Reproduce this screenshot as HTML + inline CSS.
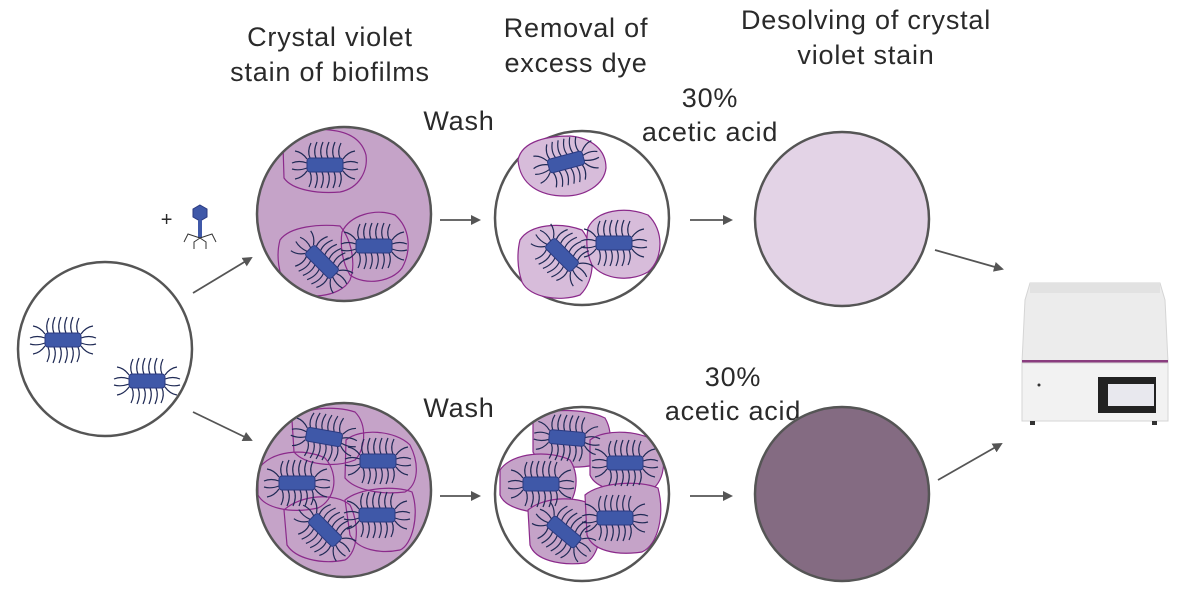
<!DOCTYPE html>
<html><head><meta charset="utf-8"><style>
body{margin:0;background:#fff}
svg{display:block}
text{font-family:"Liberation Sans",sans-serif;font-size:27px;letter-spacing:0.8px;fill:#2a2a2a;text-anchor:middle}
</style></head><body>
<svg width="1200" height="607" viewBox="0 0 1200 607" xmlns="http://www.w3.org/2000/svg">
<defs>
<marker id="ar" markerWidth="10" markerHeight="10" refX="8" refY="5" orient="auto" markerUnits="userSpaceOnUse"><path d="M0,0 L10,5 L0,10z" fill="#555"/></marker>
<g id="b">
<g fill="none" stroke="#1f2a55" stroke-width="1.2">
<path d="M-15,-7 q-3,-7 1,-15"/><path d="M-9,-7 q-3,-7 1,-16"/><path d="M-3,-7 q-3,-7 1,-16"/><path d="M3,-7 q-3,-7 1,-16"/><path d="M9,-7 q-3,-7 1,-16"/><path d="M15,-7 q-3,-7 1,-15"/>
<path d="M-15,7 q3,7 -1,15"/><path d="M-9,7 q3,7 -1,16"/><path d="M-3,7 q3,7 -1,16"/><path d="M3,7 q3,7 -1,16"/><path d="M9,7 q3,7 -1,16"/><path d="M15,7 q3,7 -1,15"/>
<path d="M-18,-2 q-8,-3 -15,0"/><path d="M-18,3 q-8,3 -15,1"/><path d="M18,-2 q8,-3 15,0"/><path d="M18,3 q8,3 15,1"/>
<path d="M-18,-6 q-5,-7 -12,-8"/><path d="M18,6 q5,7 12,8"/><path d="M-18,6 q-5,7 -12,8"/><path d="M18,-6 q5,-7 12,-8"/>
</g>
<rect x="-18" y="-7" width="36" height="14" rx="3" fill="#3f58a8" stroke="#2b3a80" stroke-width="1"/>
</g>
<clipPath id="c1"><circle cx="344" cy="214" r="87"/></clipPath>
<clipPath id="c2"><circle cx="344" cy="490" r="87"/></clipPath>
<clipPath id="c3"><circle cx="582" cy="494" r="87"/></clipPath>
</defs>

<text x="330" y="46">Crystal violet</text><text x="330" y="81">stain of biofilms</text>
<text x="576" y="37">Removal of</text><text x="576" y="72">excess dye</text>
<text x="866" y="29">Desolving of crystal</text><text x="866" y="64">violet stain</text>
<text x="459" y="130">Wash</text><text x="459" y="417">Wash</text>
<text x="710" y="107">30%</text><text x="710" y="141">acetic acid</text>
<text x="733" y="386">30%</text><text x="733" y="420">acetic acid</text>
<text x="167" y="226" style="font-size:20px">+</text>

<polygon points="200,205 207,209 207,217 200,221 193,217 193,209" fill="#3f58a8" stroke="#2b3a80"/>
<rect x="198" y="220" width="4" height="18" fill="#3f58a8"/>
<g stroke="#333" stroke-width="1" fill="none"><path d="M200,238 l-12,-4 l-4,8"/><path d="M200,238 l12,-4 l4,8"/><path d="M200,238 l-6,4 l0,7"/><path d="M200,238 l6,4 l0,7"/></g>

<circle cx="105" cy="349" r="87" fill="#fff" stroke="#555" stroke-width="2.5"/>
<use href="#b" x="63" y="340"/><use href="#b" x="147" y="381"/>

<circle cx="344" cy="214" r="87" fill="#c5a3c8"/>
<g clip-path="url(#c1)" fill="none" stroke="#8b2a8b" stroke-width="1.2" stroke-linejoin="round">
<path d="M283,145 C285,130 310,128 330,130 C350,132 362,140 366,155 C368,170 360,188 340,192 C318,194 292,190 284,178z"/>
<path d="M280,240 C290,226 320,224 340,226 C352,240 356,265 350,280 C340,298 305,300 288,290 C278,275 276,255 280,240z"/>
<path d="M342,232 C350,215 375,208 395,215 C410,228 412,250 402,268 C392,282 365,286 350,275 C342,262 340,245 342,232z"/>
</g>
<use href="#b" x="325" y="165"/><use href="#b" x="374" y="246"/>
<use href="#b" transform="translate(322,262) rotate(45)"/>
<circle cx="344" cy="214" r="87" fill="none" stroke="#555" stroke-width="2.5"/>

<circle cx="582" cy="218" r="87" fill="#fff" stroke="#555" stroke-width="2.5"/>
<g fill="#d7bcda" stroke="#8b2a8b" stroke-width="1.2">
<path d="M518,160 C522,140 550,136 570,136 C592,138 606,150 606,168 C604,185 585,196 565,196 C540,196 520,185 518,160z"/>
<path d="M520,240 C530,224 560,222 582,230 C596,248 596,280 580,295 C560,302 530,298 522,282 C517,268 517,252 520,240z"/>
<path d="M588,228 C596,210 625,206 648,215 C664,230 664,258 648,272 C630,282 605,280 592,265 C586,252 586,240 588,228z"/>
</g>
<use href="#b" transform="translate(566,162) rotate(-15)"/><use href="#b" x="614" y="243"/>
<use href="#b" transform="translate(562,255) rotate(45)"/>

<circle cx="842" cy="219" r="87" fill="#e3d3e6" stroke="#555" stroke-width="2.5"/>

<circle cx="344" cy="490" r="87" fill="#c5a3c8"/>
<g clip-path="url(#c2)" fill="none" stroke="#8b2a8b" stroke-width="1.2">
<path d="M292,420 C300,408 335,405 355,412 C368,425 365,450 355,460 C335,468 305,465 294,452z"/>
<path d="M346,440 C360,428 395,430 410,445 C420,465 418,485 405,492 C380,495 355,490 345,478z"/>
<path d="M258,470 C270,450 305,448 325,458 C340,475 335,500 318,508 C290,514 265,508 258,495z"/>
<path d="M284,510 C300,495 335,492 350,505 C360,525 358,552 345,560 C320,565 295,558 287,545z"/>
<path d="M345,500 C360,488 395,485 412,492 C420,515 412,545 400,550 C380,554 358,550 350,535z"/>
</g>
<use href="#b" transform="translate(324,437) rotate(10)"/><use href="#b" x="378" y="461"/><use href="#b" x="297" y="483"/>
<use href="#b" transform="translate(325,530) rotate(45)"/><use href="#b" x="377" y="515"/>
<circle cx="344" cy="490" r="87" fill="none" stroke="#555" stroke-width="2.5"/>

<circle cx="582" cy="494" r="87" fill="#fff"/>
<g clip-path="url(#c3)" fill="#c5a3c8" stroke="#8b2a8b" stroke-width="1.2">
<path d="M533,418 C545,408 585,408 605,418 C615,435 610,458 595,465 C570,470 540,466 533,452z"/>
<path d="M590,440 C605,428 645,430 660,445 C668,465 662,485 648,492 C620,495 595,488 590,475z"/>
<path d="M500,470 C512,452 550,450 570,460 C582,478 575,505 560,512 C530,515 505,508 500,495z"/>
<path d="M528,510 C545,496 580,495 598,508 C605,530 598,558 585,563 C560,566 535,560 530,545z"/>
<path d="M585,495 C600,482 640,480 658,488 C665,515 658,545 642,552 C615,556 592,550 587,535z"/>
</g>
<use href="#b" transform="translate(567,438) rotate(5)"/><use href="#b" x="625" y="463"/><use href="#b" x="541" y="484"/>
<use href="#b" transform="translate(564,532) rotate(40)"/><use href="#b" x="615" y="518"/>
<circle cx="582" cy="494" r="87" fill="none" stroke="#555" stroke-width="2.5"/>

<circle cx="842" cy="494" r="87" fill="#846b82" stroke="#555" stroke-width="2.5"/>

<g stroke="#555" stroke-width="1.8" marker-end="url(#ar)">
<line x1="193" y1="293" x2="251" y2="258"/><line x1="193" y1="412" x2="251" y2="440"/>
<line x1="440" y1="220" x2="479" y2="220"/><line x1="690" y1="220" x2="731" y2="220"/>
<line x1="440" y1="496" x2="479" y2="496"/><line x1="690" y1="496" x2="731" y2="496"/>
<line x1="935" y1="250" x2="1002" y2="269"/><line x1="938" y1="480" x2="1001" y2="444"/>
</g>

<path d="M1030,283 L1160,283 L1165,300 L1168,362 L1022,362 L1025,300z" fill="#ececec" stroke="#d5d5d5"/>
<rect x="1030" y="283" width="130" height="10" fill="#e2e2e2"/>
<rect x="1022" y="360" width="146" height="3" fill="#8a3d7f"/>
<rect x="1022" y="363" width="146" height="58" fill="#f2f2f2" stroke="#d5d5d5"/>
<rect x="1098" y="377" width="58" height="36" fill="#222"/>
<rect x="1108" y="384" width="46" height="22" fill="#e8e8ee"/>
<circle cx="1039" cy="385" r="1.5" fill="#333"/>
<rect x="1030" y="421" width="5" height="4" fill="#333"/><rect x="1152" y="421" width="5" height="4" fill="#333"/>
</svg>
</body></html>
